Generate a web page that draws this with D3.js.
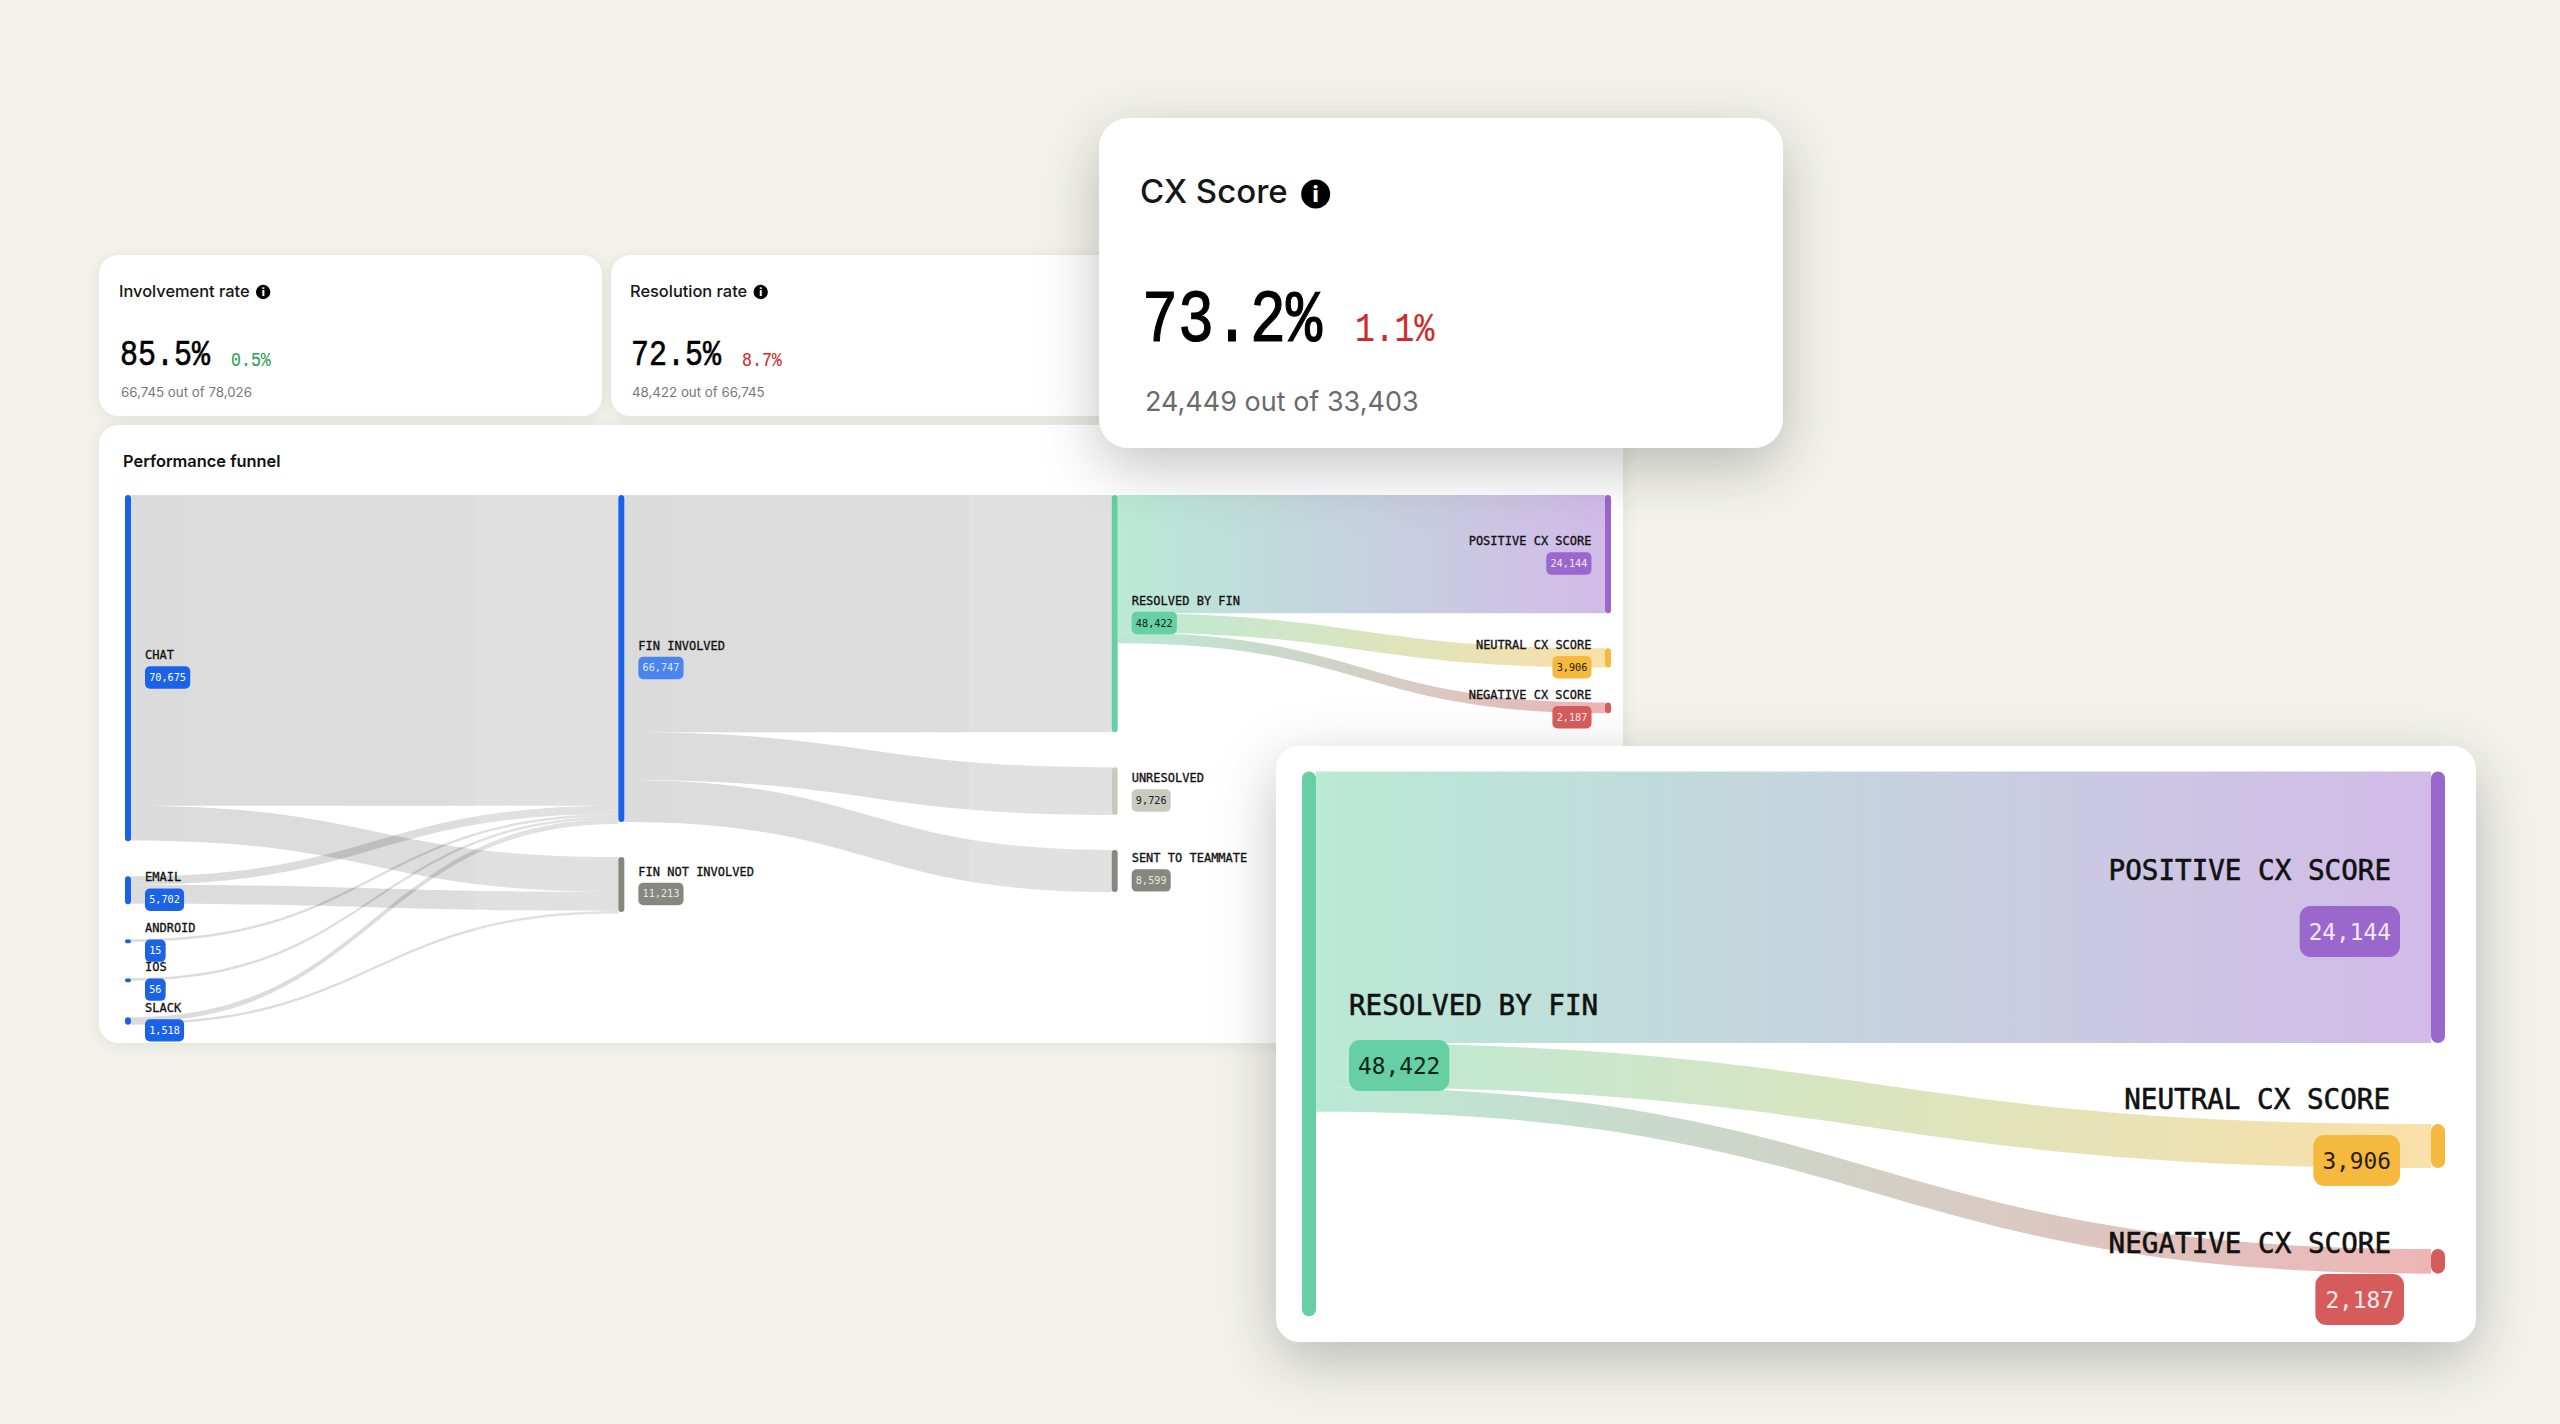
<!DOCTYPE html>
<html>
<head>
<meta charset="utf-8">
<script src="https://cdnjs.cloudflare.com/ajax/libs/d3/7.8.5/d3.min.js"></script>
<style>
html,body{margin:0;padding:0;background:#F3F3EC;}
svg{display:block;}
</style>
</head>
<body>
<svg id="chart" width="2560" height="1424"></svg>
<script>
// ---- data ----
const nodeNames  = ["CHAT","EMAIL","ANDROID","IOS","SLACK","FIN INVOLVED","FIN NOT INVOLVED","RESOLVED BY FIN","UNRESOLVED","SENT TO TEAMMATE","POSITIVE CX SCORE","NEUTRAL CX SCORE","NEGATIVE CX SCORE"];
const nodeValues = [70675,5702,15,56,1518,66747,11213,48422,9726,8599,24144,3906,2187];
const nodeColumn = [0,0,0,0,0,1,1,2,2,2,3,3,3];
const linkSource = ["CHAT","CHAT","EMAIL","EMAIL","ANDROID","IOS","SLACK","SLACK","FIN INVOLVED","FIN INVOLVED","FIN INVOLVED","RESOLVED BY FIN","RESOLVED BY FIN","RESOLVED BY FIN"];
const linkTarget = ["FIN INVOLVED","FIN NOT INVOLVED","FIN INVOLVED","FIN NOT INVOLVED","FIN INVOLVED","FIN INVOLVED","FIN INVOLVED","FIN NOT INVOLVED","RESOLVED BY FIN","UNRESOLVED","SENT TO TEAMMATE","POSITIVE CX SCORE","NEUTRAL CX SCORE","NEGATIVE CX SCORE"];
const linkValues = [63400,7100,1700,3900,15,56,1000,400,48422,9726,8599,24144,3906,2187];

const metricTitles = ["Involvement rate","Resolution rate","CX Score"];
const metricRates  = ["85.5%","72.5%","73.2%"];
const metricDeltas = ["0.5%","8.7%","1.1%"];
const metricCounts = ["66,745 out of 78,026","48,422 out of 66,745","24,449 out of 33,403"];
const panelTitle   = "Performance funnel";
const insetNames   = ["RESOLVED BY FIN","POSITIVE CX SCORE","NEUTRAL CX SCORE","NEGATIVE CX SCORE"];

// ---- styles ----
const BLUE="#1A62E8", GREY="#878780", PALE="#C8CABF", GREEN="#66CFA3", PURPLE="#9A67CC", AMBER="#F5B93E", RED="#D65C5C";
const nodeFill = {"CHAT":BLUE,"EMAIL":BLUE,"ANDROID":BLUE,"IOS":BLUE,"SLACK":BLUE,"FIN INVOLVED":BLUE,
  "FIN NOT INVOLVED":GREY,"RESOLVED BY FIN":GREEN,"UNRESOLVED":PALE,"SENT TO TEAMMATE":GREY,
  "POSITIVE CX SCORE":PURPLE,"NEUTRAL CX SCORE":AMBER,"NEGATIVE CX SCORE":RED};
const badgeFill = Object.assign({},nodeFill,{"FIN INVOLVED":"#4A85EF"});
const badgeText = {"RESOLVED BY FIN":"#10241b","UNRESOLVED":"#222","NEUTRAL CX SCORE":"#2a2008","FIN NOT INVOLVED":"#e6e6e0","SENT TO TEAMMATE":"#e6e6e0","POSITIVE CX SCORE":"#f3e9fb","NEGATIVE CX SCORE":"#fde9e9","FIN INVOLVED":"#dfe9fd"};
const MONO="'DejaVu Sans Mono',monospace", TALL="'Liberation Mono',monospace", SANS="Inter,'Noto Sans',sans-serif";

const svg = d3.select("#chart");
const defs = svg.append("defs");
function shadow(id,dy,blur,op){
  defs.append("filter").attr("id",id).attr("x","-25%").attr("y","-30%").attr("width","150%").attr("height","175%")
    .attr("filterUnits","objectBoundingBox")
    .append("feDropShadow").attr("dx",0).attr("dy",dy).attr("stdDeviation",blur).attr("flood-color","#000").attr("flood-opacity",op);
}
shadow("soft",2,8,0.08);
shadow("lift",18,30,0.24);

function card(x,y,w,h,r,f){
  svg.append("rect").attr("x",x).attr("y",y).attr("width",w).attr("height",h).attr("rx",r).attr("fill","#fff").attr("filter",`url(#${f})`);
}

// ---- sankey layout: nodes stacked per column with a constant gap ----
function layout(k,gap,top,minNode,minLink,names,x){
  const h = d3.scaleLinear().domain([0,1]).range([0,k]);
  const nodes = new Map();
  const cols = d3.group(names, n => nodeColumn[nodeNames.indexOf(n)]);
  for (const [c,list] of cols){
    let y=top;
    for (const n of list){
      const v=nodeValues[nodeNames.indexOf(n)], hh=Math.max(minNode,h(v));
      nodes.set(n,{name:n,value:v,col:c,x:x(c),y0:y,y1:y+hh,so:y,to:y});
      y+=hh+gap;
    }
  }
  const links=[];
  linkValues.forEach((v,i)=>{
    const s=nodes.get(linkSource[i]), t=nodes.get(linkTarget[i]);
    if(!s||!t) return;
    const w=Math.max(minLink,h(v));
    links.push({s,t,w,y0:s.so,y1:t.to,i});
    s.so+=w; t.to+=w;
  });
  return {nodes:[...nodes.values()],links};
}

let gid=0;
function drawLinks(g,L,nw){
  L.links.forEach(l=>{
    const x0=l.s.x+nw, x1=l.t.x, m=(x0+x1)/2, id="lg"+(gid++);
    const coloured=l.s.name==="RESOLVED BY FIN";
    const gr=defs.append("linearGradient").attr("id",id).attr("gradientUnits","userSpaceOnUse")
      .attr("x1",x0).attr("x2",x1).attr("y1",0).attr("y2",0);
    if(coloured){
      gr.append("stop").attr("offset",0).attr("stop-color",nodeFill[l.s.name]).attr("stop-opacity",.45);
      gr.append("stop").attr("offset",1).attr("stop-color",nodeFill[l.t.name]).attr("stop-opacity",.45);
    }else{
      gr.append("stop").attr("offset",0).attr("stop-color","#000").attr("stop-opacity",.14);
      gr.append("stop").attr("offset",.7).attr("stop-color","#000").attr("stop-opacity",.135);
      gr.append("stop").attr("offset",.71).attr("stop-color","#000").attr("stop-opacity",.12);
      gr.append("stop").attr("offset",1).attr("stop-color","#000").attr("stop-opacity",.12);
    }
    const p=d3.path();
    p.moveTo(x0,l.y0);
    p.bezierCurveTo(m,l.y0,m,l.y1,x1,l.y1);
    p.lineTo(x1,l.y1+l.w);
    p.bezierCurveTo(m,l.y1+l.w,m,l.y0+l.w,x0,l.y0+l.w);
    p.closePath();
    g.append("path").attr("d",p.toString()).attr("fill",`url(#${id})`);
  });
}
function drawNodes(g,L,nw){
  g.selectAll("rect.node").data(L.nodes).join("rect").attr("class","node")
    .attr("x",d=>d.x).attr("y",d=>d.y0).attr("width",nw).attr("height",d=>d.y1-d.y0)
    .attr("rx",nw/2).attr("fill",d=>nodeFill[d.name]);
}
function badge(g,name,value,x,top,h,fs,pad,r,anchorEnd){
  const txt=d3.format(",")(value);
  const t=g.append("text").attr("font-family",MONO).attr("font-size",fs).attr("fill",badgeText[name]||"#fff")
    .attr("dominant-baseline","central").attr("y",top+h/2).text(txt);
  const tw=t.node().getComputedTextLength(), w=tw+pad*2;
  const bx=anchorEnd?x-w:x;
  t.attr("x",bx+pad);
  g.insert("rect","text:last-of-type").attr("x",bx).attr("y",top).attr("width",w).attr("height",h).attr("rx",r).attr("fill",badgeFill[name]);
}
function tallText(g,x,y,size,fill,weightStroke,txt){
  g.append("text").attr("transform",`translate(${x},${y}) scale(1,1.24)`)
    .attr("font-family",TALL).attr("font-size",size).attr("fill",fill)
    .attr("stroke",fill).attr("stroke-width",weightStroke).text(txt);
}

// ---- background cards ----
card(99,255,503,161,20,"soft");
card(611,255,520,161,20,"soft");
card(99,425,1524,618,20,"soft");

function metric(i,x,o){
  const g=svg.append("g");
  const t=g.append("text").attr("x",x+o.tx).attr("y",o.ty).attr("font-family",SANS).attr("font-weight",500).attr("font-size",o.tf).attr("fill","#161616").text(metricTitles[i]);
  const tw=t.node().getComputedTextLength();
  g.append("circle").attr("cx",x+o.tx+tw+o.ig).attr("cy",o.iy).attr("r",o.ir).attr("fill","#000");
  g.append("text").attr("x",x+o.tx+tw+o.ig).attr("y",o.iy).attr("dominant-baseline","central").attr("text-anchor","middle")
    .attr("font-family",SANS).attr("font-weight",800).attr("font-size",o.ir*1.5).attr("fill","#fff").text("i");
  tallText(g,x+o.rx,o.ry,o.rf,"#000",o.rs,metricRates[i]);
  tallText(g,x+o.dx,o.dy,o.df,i===0?"#2E9E4F":"#CE2B2B",o.ds,metricDeltas[i]);
  g.append("text").attr("x",x+o.cx).attr("y",o.cy).attr("font-family",SANS).attr("font-size",o.cf).attr("fill",o.cc).text(metricCounts[i]);
}
const small={tx:0,ty:297,tf:16.4,ig:13.5,iy:292,ir:7.2,rx:1,ry:364.5,rf:30,rs:.5,dx:112,dy:366,df:16.6,ds:.1,cx:2,cy:397,cf:13.3,cc:"#777"};
metric(0,119,small);
metric(1,630,small);

// ---- main funnel ----
const main=svg.append("g");
main.append("text").attr("x",123).attr("y",466.5).attr("font-family",SANS).attr("font-weight",600).attr("font-size",16.4).attr("fill","#111").text(panelTitle);
const xMain=d3.scaleLinear().domain([0,3]).range([125,1605]);
const LM=layout(0.0049,35,495,4,2.5,nodeNames,xMain);
drawLinks(main,LM,6);
drawNodes(main,LM,6);
LM.nodes.forEach(n=>{
  const cy=(n.y0+n.y1)/2, right=n.col===3;
  const x=right?n.x-13.5:n.x+20;
  main.append("text").attr("x",x).attr("y",cy-9).attr("text-anchor",right?"end":"start")
    .attr("font-family",MONO).attr("font-size",12).attr("fill","#111").attr("stroke","#111").attr("stroke-width",.3).text(n.name);
  const g=main.append("g");
  badge(g,n.name,n.value,x,cy-1.8,22.4,10.2,4.2,5,right);
});

// ---- CX Score card ----
card(1099,118,684,330,30,"lift");
metric(2,1141,{tx:-1,ty:203,tf:33,ig:28,iy:194,ir:14.5,rx:1,ry:341,rf:60,rs:1,dx:214,dy:341,df:33,ds:.2,cx:4,cy:411,cf:27,cc:"#6b6b6b"});

// ---- enlarged inset of the CX branch ----
card(1276,746,1200,596,24,"lift");
const inset=svg.append("g");
const xInset=d3.scaleLinear().domain([2,3]).range([1302,2431]);
const LI=layout(0.01125,81,771.5,4,2.5,insetNames,xInset);
drawLinks(inset,LI,14);
drawNodes(inset,LI,14);
const insetLabelBase  = {"RESOLVED BY FIN":1015,"POSITIVE CX SCORE":880,"NEUTRAL CX SCORE":1109,"NEGATIVE CX SCORE":1253};
const insetBadgeTop   = {"RESOLVED BY FIN":1040,"POSITIVE CX SCORE":906,"NEUTRAL CX SCORE":1135,"NEGATIVE CX SCORE":1274};
const insetAnchor     = {"RESOLVED BY FIN":[1349,1349,false],"POSITIVE CX SCORE":[2391,2400,true],"NEUTRAL CX SCORE":[2390,2400,true],"NEGATIVE CX SCORE":[2391,2404,true]};
LI.nodes.forEach(n=>{
  const [lx,bx,end]=insetAnchor[n.name];
  inset.append("text").attr("x",lx).attr("y",insetLabelBase[n.name]).attr("text-anchor",end?"end":"start")
    .attr("font-family",MONO).attr("font-size",27.6).attr("fill","#111").attr("stroke","#111").attr("stroke-width",.6).text(n.name);
  const g=inset.append("g");
  badge(g,n.name,n.value,bx,insetBadgeTop[n.name],51,22.8,n.name==="NEGATIVE CX SCORE"?10:9,11,end);
});
</script>
</body>
</html>
